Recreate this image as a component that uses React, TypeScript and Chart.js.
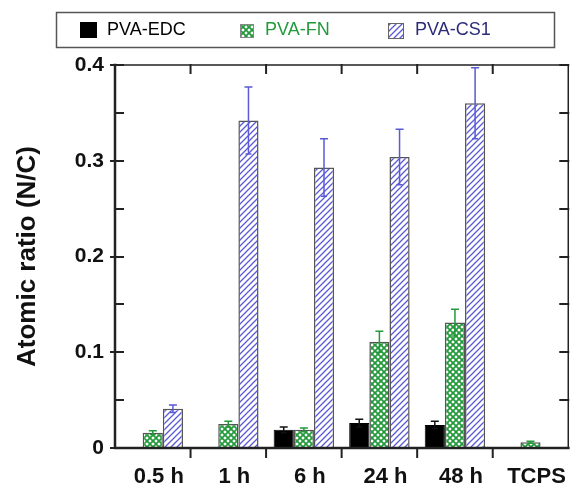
import { useEffect, useRef } from 'react';
import { Chart, registerables } from 'chart.js';

Chart.register(...registerables);

const categories = ['0.5 h', '1 h', '6 h', '24 h', '48 h', 'TCPS'];
const seriesNames = ['PVA-EDC', 'PVA-FN', 'PVA-CS1'];
const edcValues = [null, null, 0.019, 0.026, 0.024, null];
const edcErrors = [null, null, 0.003, 0.004, 0.004, null];
const fnValues = [0.016, 0.025, 0.019, 0.111, 0.131, 0.006];
const fnErrors = [0.002, 0.003, 0.002, 0.011, 0.014, 0.001];
const cs1Values = [0.041, 0.342, 0.293, 0.304, 0.36, null];
const cs1Errors = [0.004, 0.035, 0.03, 0.029, 0.037, null];
const yMin = 0;
const yMax = 0.4;
const yStep = 0.1;
const yMinorStep = 0.05;

const FONT = '"Liberation Sans", Arial, sans-serif';
const GREEN = '#22993a';
const BLUE = '#5a5ad6';
const FRAME = '#222222';

function makeHatch(color: string) {
  const s = 6;
  const c = document.createElement('canvas');
  c.width = s;
  c.height = s;
  const g = c.getContext('2d')!;
  g.fillStyle = '#ffffff';
  g.fillRect(0, 0, s, s);
  g.strokeStyle = color;
  g.lineWidth = 1.3;
  g.beginPath();
  g.moveTo(-1, s + 1);
  g.lineTo(s + 1, -1);
  g.moveTo(-1, 1);
  g.lineTo(1, -1);
  g.moveTo(s - 1, s + 1);
  g.lineTo(s + 1, s - 1);
  g.stroke();
  return g.createPattern(c, 'repeat')!;
}

function makeCross(color: string) {
  const s = 6;
  const c = document.createElement('canvas');
  c.width = s;
  c.height = s;
  const g = c.getContext('2d')!;
  g.fillStyle = '#ffffff';
  g.fillRect(0, 0, s, s);
  g.strokeStyle = color;
  g.lineWidth = 1.7;
  g.beginPath();
  g.moveTo(-1, s + 1);
  g.lineTo(s + 1, -1);
  g.moveTo(-1, -1);
  g.lineTo(s + 1, s + 1);
  g.moveTo(-1, 1);
  g.lineTo(1, -1);
  g.moveTo(s - 1, s + 1);
  g.lineTo(s + 1, s - 1);
  g.moveTo(s - 1, -1);
  g.lineTo(s + 1, 1);
  g.moveTo(-1, s - 1);
  g.lineTo(1, s + 1);
  g.stroke();
  return g.createPattern(c, 'repeat')!;
}

export default function App() {
  const ref = useRef<HTMLCanvasElement>(null);

  useEffect(() => {
    const canvas = ref.current!;
    const hatch = makeHatch(BLUE);
    const cross = makeCross(GREEN);
    const errors = [edcErrors, fnErrors, cs1Errors];
    const errColors = ['#111111', GREEN, BLUE];

    const errorBars = {
      id: 'errorBars',
      afterDatasetsDraw(chart: any) {
        const ctx = chart.ctx;
        const y = chart.scales.y;
        chart.data.datasets.forEach((ds: any, di: number) => {
          const meta = chart.getDatasetMeta(di);
          meta.data.forEach((el: any, i: number) => {
            const v = ds.data[i];
            const e = errors[di][i];
            if (v == null || e == null) return;
            const yt = y.getPixelForValue(v + e);
            const yb = y.getPixelForValue(v - e);
            ctx.save();
            ctx.strokeStyle = errColors[di];
            ctx.lineWidth = 1.5;
            ctx.beginPath();
            ctx.moveTo(el.x, yt);
            ctx.lineTo(el.x, yb);
            ctx.moveTo(el.x - 4, yt);
            ctx.lineTo(el.x + 4, yt);
            ctx.moveTo(el.x - 3, yb);
            ctx.lineTo(el.x + 3, yb);
            ctx.stroke();
            ctx.restore();
          });
        });
      },
    };

    const frame = {
      id: 'frame',
      afterDraw(chart: any) {
        const ctx = chart.ctx;
        const { left, right, top, bottom } = chart.chartArea;
        const x = chart.scales.x;
        const y = chart.scales.y;
        ctx.save();
        ctx.strokeStyle = FRAME;
        ctx.lineCap = 'square';
        ctx.lineWidth = 1.5;
        ctx.beginPath();
        ctx.moveTo(left, top);
        ctx.lineTo(right, top);
        ctx.lineTo(right, bottom);
        ctx.stroke();
        ctx.lineWidth = 2.5;
        ctx.beginPath();
        ctx.moveTo(left, top);
        ctx.lineTo(left, bottom);
        ctx.lineTo(right, bottom);
        ctx.stroke();
        ctx.lineWidth = 2;
        ctx.beginPath();
        const nMinor = Math.round((yMax - yMin) / yMinorStep);
        for (let k = 0; k <= nMinor; k++) {
          const v = yMin + k * yMinorStep;
          const py = Math.round(y.getPixelForValue(v));
          const major = k % 2 === 0;
          ctx.moveTo(left - (major ? 4 : 0), py);
          ctx.lineTo(left + 8, py);
          ctx.moveTo(right, py);
          ctx.lineTo(right - 8, py);
        }
        for (let i = 0; i < categories.length - 1; i++) {
          const bx = (x.getPixelForValue(i) + x.getPixelForValue(i + 1)) / 2;
          ctx.moveTo(bx, top);
          ctx.lineTo(bx, top + 8);
          ctx.moveTo(bx, bottom);
          ctx.lineTo(bx, bottom + 9);
        }
        ctx.stroke();
        ctx.restore();

        // legend
        ctx.save();
        ctx.strokeStyle = '#555555';
        ctx.lineWidth = 1.5;
        ctx.strokeRect(56.5, 12.5, 498, 35);
        const ly = 30;
        ctx.font = `18px ${FONT}`;
        ctx.textBaseline = 'middle';
        ctx.fillStyle = '#000000';
        ctx.fillRect(80, 22, 17, 16);
        ctx.fillText(seriesNames[0], 107, ly);
        ctx.fillStyle = cross;
        ctx.fillRect(240, 24, 13, 13);
        ctx.strokeStyle = '#888888';
        ctx.lineWidth = 1;
        ctx.strokeRect(240.5, 24.5, 13, 13);
        ctx.fillStyle = GREEN;
        ctx.fillText(seriesNames[1], 265, ly);
        ctx.fillStyle = hatch;
        ctx.fillRect(388, 23, 15, 15);
        ctx.strokeStyle = '#666666';
        ctx.strokeRect(388.5, 23.5, 15, 15);
        ctx.fillStyle = '#2b2b7a';
        ctx.fillText(seriesNames[2], 415, ly);
        ctx.restore();
      },
    };

    const chart = new Chart(canvas, {
      type: 'bar',
      data: {
        labels: categories,
        datasets: [
          {
            label: seriesNames[0],
            data: edcValues as any,
            backgroundColor: '#000000',
            borderColor: '#000000',
            borderWidth: 1,
          },
          {
            label: seriesNames[1],
            data: fnValues,
            backgroundColor: cross as any,
            borderColor: '#555555',
            borderWidth: 1.5,
          },
          {
            label: seriesNames[2],
            data: cs1Values as any,
            backgroundColor: hatch as any,
            borderColor: '#555555',
            borderWidth: 1.5,
          },
        ],
      },
      options: {
        animation: false,
        responsive: false,
        maintainAspectRatio: false,
        layout: { padding: { top: 65, right: 2, left: 0, bottom: 0 } },
        datasets: {
          bar: { categoryPercentage: 0.8, barPercentage: 1.0 },
        },
        plugins: {
          legend: { display: false },
          tooltip: { enabled: false },
        },
        scales: {
          x: {
            grid: { display: false, drawTicks: false },
            border: { display: false },
            ticks: {
              color: '#111111',
              font: { family: FONT, size: 22, weight: 'bold' },
              padding: 16,
              labelOffset: 6,
              maxRotation: 0,
              autoSkip: false,
            },
            afterFit(scale: any) {
              scale.height = 36;
            },
          },
          y: {
            min: yMin,
            max: yMax,
            grid: { display: false, drawTicks: false },
            border: { display: false },
            ticks: {
              stepSize: yStep,
              color: '#111111',
              font: { family: FONT, size: 21, weight: 'bold' },
              padding: 11,
              callback: (v: any) => (Number(v) === 0 ? '0' : Number(v).toFixed(1)),
            },
            title: {
              display: true,
              text: 'Atomic ratio (N/C)',
              color: '#111111',
              font: { family: FONT, size: 26, weight: 'bold' },
              padding: { top: 12, bottom: 0 },
            },
            afterFit(scale: any) {
              scale.width = 115;
            },
          },
        },
      },
      plugins: [errorBars, frame],
    });
    return () => chart.destroy();
  }, []);

  return (
    <div style={{ position: 'fixed', left: 0, top: 0, width: 576, height: 484, background: '#fff' }}>
      <canvas ref={ref} width={576} height={484} style={{ display: 'block', width: 576, height: 484 }} />
    </div>
  );
}
